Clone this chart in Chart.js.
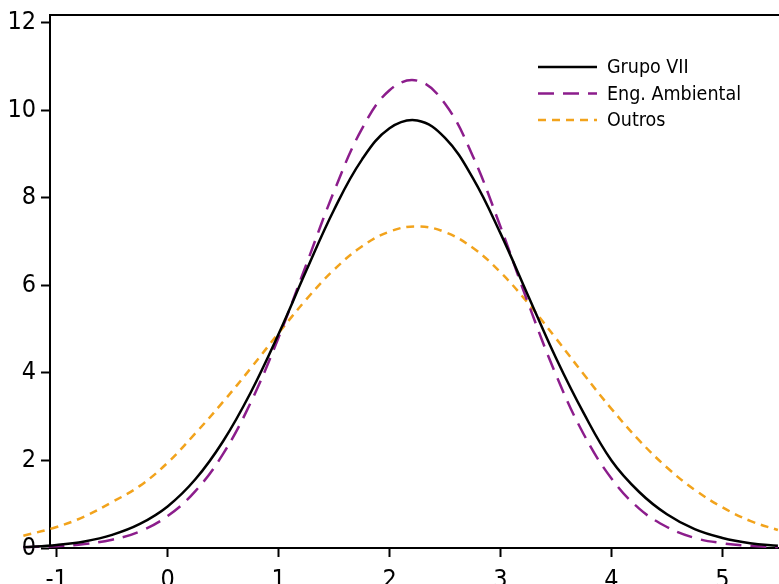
<!DOCTYPE html>
<html>
<head>
<meta charset="utf-8">
<script src="https://cdn.jsdelivr.net/npm/chart.js@4/dist/chart.umd.min.js"></script>
<style>
  html, body { margin: 0; padding: 0; background: #fff; }
  canvas { display: block; }
</style>
</head>
<body>
<canvas id="chart" width="779" height="584"></canvas>
<script>
// data
const xValues = [-1.3, -1, -0.75, -0.5, -0.25, 0, 0.25, 0.5, 0.75, 1, 1.25, 1.5, 1.75, 2,
  2.25, 2.5, 2.75, 3, 3.25, 3.5, 3.75, 4, 4.25, 4.5, 4.75, 5, 5.25, 5.5];
const grupoVII = [0.02, 0.07, 0.15, 0.30, 0.55, 0.95, 1.57, 2.44, 3.56, 4.89, 6.34, 7.73, 8.87, 9.59,
  9.77, 9.37, 8.46, 7.19, 5.76, 4.34, 3.08, 2.00, 1.28, 0.77, 0.43, 0.23, 0.11, 0.05];
const engAmbiental = [0.02, 0.04, 0.09, 0.19, 0.38, 0.73, 1.30, 2.15, 3.33, 4.81, 6.48, 8.15, 9.57, 10.46,
  10.68, 10.15, 8.96, 7.34, 5.59, 3.96, 2.60, 1.59, 0.90, 0.48, 0.23, 0.11, 0.05, 0.02];
const outros = [0.28, 0.48, 0.72, 1.05, 1.42, 1.95, 2.62, 3.34, 4.11, 4.91, 5.68, 6.36, 6.89, 7.23,
  7.35, 7.22, 6.86, 6.30, 5.59, 4.79, 3.97, 3.18, 2.46, 1.84, 1.33, 0.93, 0.62, 0.41];
const seriesLabels = ['Grupo VII', 'Eng. Ambiental', 'Outros'];
const xTicks = [-1, 0, 1, 2, 3, 4, 5];
const yTicks = [0, 2, 4, 6, 8, 10, 12];

const FONT = "'DejaVu Sans Condensed', 'DejaVu Sans', sans-serif";
const toPoints = ys => xValues.map((x, i) => ({x: x, y: ys[i]}));

// legend drawn inside the plot, top right
const innerLegend = {
  id: 'innerLegend',
  afterDatasetsDraw(chart) {
    const {ctx, chartArea} = chart;
    const x0 = chartArea.right - 241;
    ctx.save();
    ctx.font = '19.5px ' + FONT;
    ctx.textBaseline = 'middle';
    chart.data.datasets.forEach((ds, i) => {
      const y = chartArea.top + 52 + i * 26.5;
      ctx.strokeStyle = ds.borderColor;
      ctx.lineWidth = 2.5;
      ctx.setLineDash(ds.borderDash || []);
      ctx.beginPath();
      ctx.moveTo(x0, y);
      ctx.lineTo(x0 + 59, y);
      ctx.stroke();
      ctx.setLineDash([]);
      ctx.fillStyle = '#000';
      ctx.fillText(ds.label, x0 + 69, y + 1);
    });
    ctx.restore();
  }
};

// top frame line
const topFrame = {
  id: 'topFrame',
  afterDraw(chart) {
    const {ctx, chartArea} = chart;
    ctx.save();
    ctx.strokeStyle = '#000';
    ctx.lineWidth = 2;
    ctx.beginPath();
    ctx.moveTo(chartArea.left - 1, chartArea.top);
    ctx.lineTo(chartArea.right, chartArea.top);
    ctx.stroke();
    ctx.restore();
  }
};

const lineOpts = {
  pointRadius: 0,
  borderWidth: 2.5,
  tension: 0.4,
  fill: false,
  clip: {left: 28, top: 0, right: 0, bottom: 2}
};

const axisGrid = {drawOnChartArea: false, drawTicks: true, tickLength: 9, tickWidth: 2, tickColor: '#000'};

new Chart(document.getElementById('chart'), {
  type: 'line',
  data: {
    datasets: [
      Object.assign({label: seriesLabels[0], data: toPoints(grupoVII), borderColor: '#000000'}, lineOpts),
      Object.assign({label: seriesLabels[1], data: toPoints(engAmbiental), borderColor: '#8c1d8c',
        borderDash: [16, 9]}, lineOpts),
      Object.assign({label: seriesLabels[2], data: toPoints(outros), borderColor: '#f2a31c',
        borderDash: [8, 6]}, lineOpts)
    ]
  },
  options: {
    responsive: false,
    animation: false,
    layout: {padding: {top: 15, right: 0, left: 0, bottom: 0}},
    plugins: {
      legend: {display: false},
      tooltip: {enabled: false}
    },
    scales: {
      x: {
        type: 'linear',
        min: -1.06,
        max: 5.51,
        afterBuildTicks: s => { s.ticks = xTicks.map(v => ({value: v})); },
        afterFit: s => { s.height = 36; s.paddingLeft = 0; s.paddingRight = 0; },
        grid: axisGrid,
        border: {color: '#000', width: 2},
        ticks: {color: '#000', font: {family: FONT, size: 25}, padding: 8, maxRotation: 0, autoSkip: false}
      },
      y: {
        min: 0,
        max: 12.18,
        afterBuildTicks: s => { s.ticks = yTicks.map(v => ({value: v})); },
        afterFit: s => { s.width = 50; s.paddingTop = 0; s.paddingBottom = 0; },
        grid: axisGrid,
        border: {color: '#000', width: 2},
        ticks: {color: '#000', font: {family: FONT, size: 25}, padding: 5, autoSkip: false}
      }
    }
  },
  plugins: [innerLegend, topFrame]
});
</script>
</body>
</html>
